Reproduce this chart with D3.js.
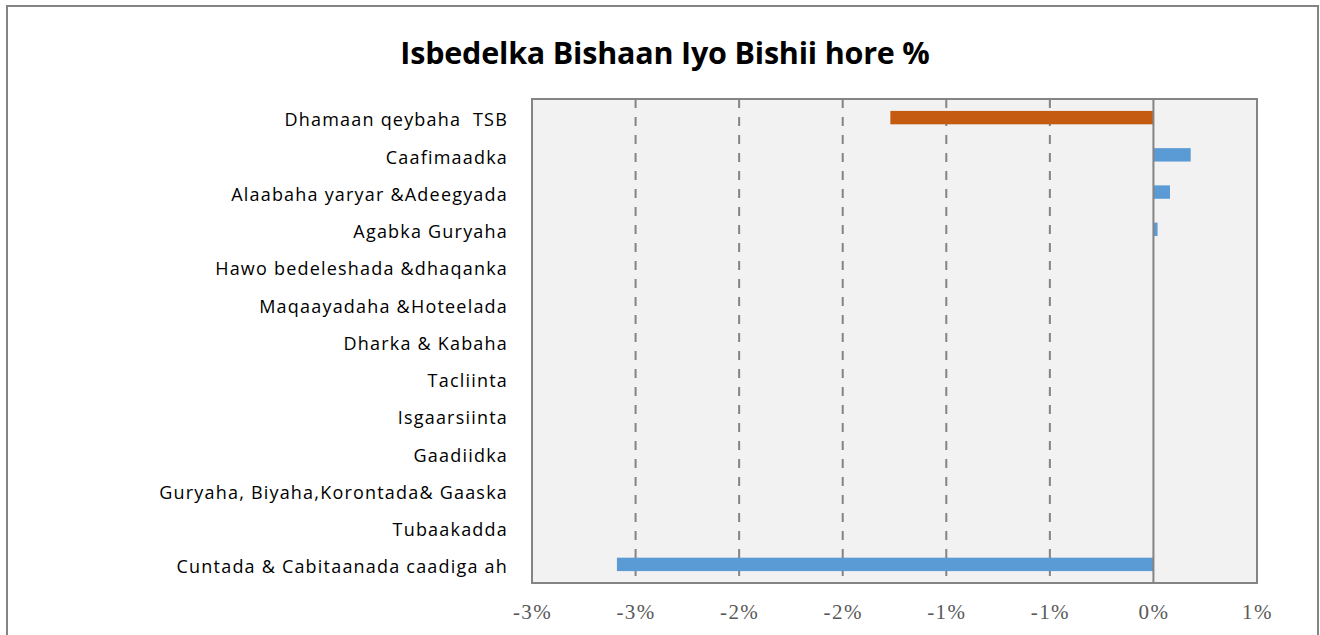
<!DOCTYPE html>
<html>
<head>
<meta charset="utf-8">
<script src="https://cdn.jsdelivr.net/npm/d3@7"></script>
<style>
  html, body { margin: 0; padding: 0; background: #ffffff; }
  svg { display: block; }
  text { white-space: pre; }
</style>
</head>
<body>
<svg id="chart" width="1320" height="635"></svg>
<script>
// ---- Data ----
const title = "Isbedelka Bishaan Iyo Bishii hore %";
const categories = [
  "Dhamaan qeybaha  TSB",
  "Caafimaadka",
  "Alaabaha yaryar &Adeegyada",
  "Agabka Guryaha",
  "Hawo bedeleshada &dhaqanka",
  "Maqaayadaha &Hoteelada",
  "Dharka & Kabaha",
  "Tacliinta",
  "Isgaarsiinta",
  "Gaadiidka",
  "Guryaha, Biyaha,Korontada& Gaaska",
  "Tubaakadda",
  "Cuntada & Cabitaanada caadiga ah"
];
const values = [-1.27, 0.18, 0.08, 0.02, 0, 0, 0, 0, 0, 0, 0, 0, -2.59];
const highlightCategory = "Dhamaan qeybaha  TSB";
const tickValues = [-3, -2.5, -2, -1.5, -1, -0.5, 0, 0.5];
const tickLabels = ["-3%", "-3%", "-2%", "-2%", "-1%", "-1%", "0%", "1%"];

// ---- Layout ----
const svg = d3.select("#chart");
const plot = { left: 532, right: 1257, top: 99, bottom: 583 };
const gray = "#848484";

// outer chart border (bottom edge runs off the image)
svg.append("path")
  .attr("d", `M7,640 L7,6 L1318,6 L1318,640`)
  .attr("fill", "none")
  .attr("stroke", gray)
  .attr("stroke-width", 2);

// title
svg.append("text")
  .attr("x", 665)
  .attr("y", 64)
  .attr("text-anchor", "middle")
  .attr("font-family", "'Open Sans', sans-serif")
  .attr("font-weight", "bold")
  .attr("font-size", 30.5)
  .attr("letter-spacing", -0.2)
  .attr("fill", "#000")
  .text(title);

const x = d3.scaleLinear()
  .domain([tickValues[0], tickValues[tickValues.length - 1]])
  .range([plot.left, plot.right]);

const y = d3.scaleBand()
  .domain(categories)
  .range([plot.top, plot.bottom])
  .paddingInner(0.64)
  .paddingOuter(0.32);

// plot background
svg.append("rect")
  .attr("x", plot.left).attr("y", plot.top)
  .attr("width", plot.right - plot.left)
  .attr("height", plot.bottom - plot.top)
  .attr("fill", "#F2F2F2");

// dashed gridlines
svg.append("g")
  .selectAll("line")
  .data(tickValues.filter(v => v !== 0 && v !== tickValues[0] && v !== tickValues[tickValues.length - 1]))
  .join("line")
  .attr("x1", d => x(d)).attr("x2", d => x(d))
  .attr("y1", plot.top).attr("y2", plot.bottom)
  .attr("stroke", gray)
  .attr("stroke-width", 2)
  .attr("stroke-dasharray", "9,9");

// bars
svg.append("g")
  .selectAll("rect")
  .data(categories.map((c, i) => ({ c, v: values[i] })))
  .join("rect")
  .attr("x", d => Math.min(x(0), x(d.v)))
  .attr("y", d => y(d.c))
  .attr("width", d => Math.abs(x(d.v) - x(0)))
  .attr("height", y.bandwidth())
  .attr("fill", d => d.c === highlightCategory ? "#C55A11" : "#5B9BD5");

// zero line
svg.append("line")
  .attr("x1", x(0)).attr("x2", x(0))
  .attr("y1", plot.top).attr("y2", plot.bottom)
  .attr("stroke", gray)
  .attr("stroke-width", 2);

// plot border
svg.append("rect")
  .attr("x", plot.left).attr("y", plot.top)
  .attr("width", plot.right - plot.left)
  .attr("height", plot.bottom - plot.top)
  .attr("fill", "none")
  .attr("stroke", gray)
  .attr("stroke-width", 2);

// x axis
const xAxis = d3.axisBottom(x)
  .tickValues(tickValues)
  .tickFormat((d, i) => tickLabels[i])
  .tickSize(0)
  .tickPadding(0);

const gx = svg.append("g")
  .attr("transform", `translate(0,${plot.bottom})`)
  .call(xAxis);
gx.select(".domain").remove();
gx.selectAll("text")
  .attr("dy", null)
  .attr("y", 36)
  .attr("font-family", "'Liberation Serif', 'Times New Roman', serif")
  .attr("font-size", 21)
  .attr("letter-spacing", 1.4)
  .attr("fill", "#595959");

// y axis (category labels)
const yAxis = d3.axisLeft(y).tickSize(0).tickPadding(0);
const gy = svg.append("g")
  .attr("transform", `translate(508,0)`)
  .call(yAxis);
gy.select(".domain").remove();
gy.selectAll("text")
  .attr("dy", "0.38em")
  .attr("y", 2)
  .attr("font-family", "'Open Sans', sans-serif")
  .attr("font-size", 18)
  .attr("letter-spacing", 1.2)
  .attr("fill", "#000");
</script>
</body>
</html>
